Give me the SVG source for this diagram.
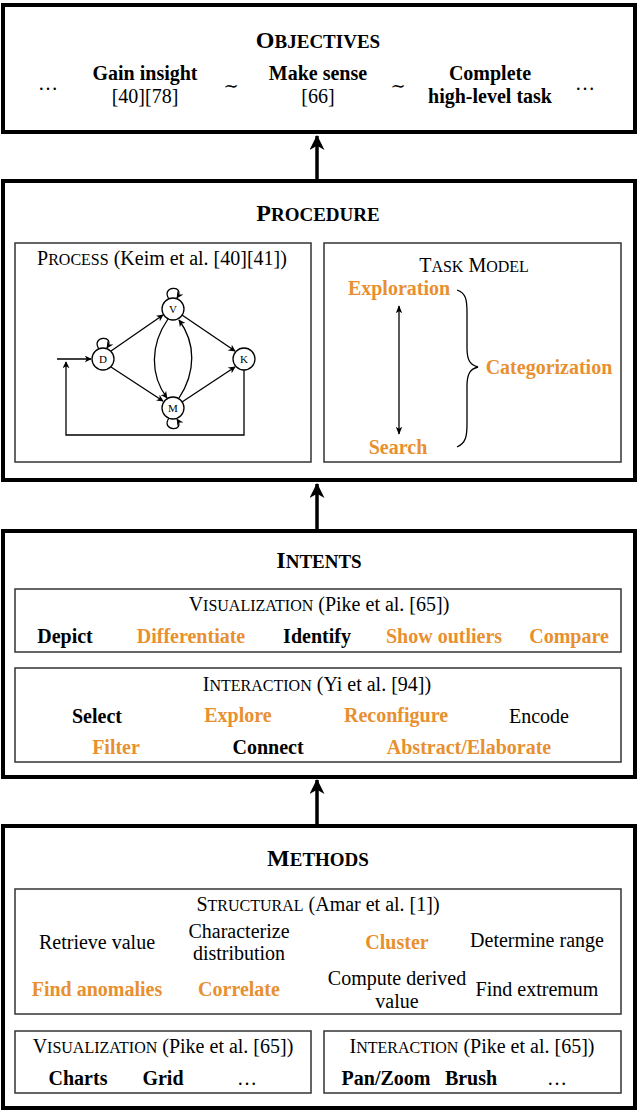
<svg xmlns="http://www.w3.org/2000/svg" width="640" height="1117" viewBox="0 0 640 1117">
<style>
text{font-family:"Liberation Serif","Times New Roman",serif;font-size:20px;fill:#000;text-anchor:middle}
.b{font-weight:bold}
.o{fill:#E8902F;font-weight:bold}
.t{font-weight:bold;font-size:24px}
.sc{font-size:16px}
.tsc{font-size:19px}
.outer{fill:#fff;stroke:#000;stroke-width:4}
.inner{fill:none;stroke:#333;stroke-width:1.5}
.edge{fill:none;stroke:#000;stroke-width:1.3}
.node{fill:#fff;stroke:#000;stroke-width:1.3}
.nl{font-size:11px}
.big{fill:none;stroke:#000;stroke-width:3.5}
</style>
<defs>
<marker id="ah" viewBox="0 0 10 10" refX="9" refY="5" markerWidth="7" markerHeight="7" markerUnits="userSpaceOnUse" orient="auto">
<path d="M0,0 L10,5 L0,10 L3,5 Z" fill="#000"/>
</marker>
<marker id="ah2" viewBox="0 0 10 10" refX="9" refY="5" markerWidth="8" markerHeight="8" markerUnits="userSpaceOnUse" orient="auto-start-reverse">
<path d="M0,1 L10,5 L0,9 L2.5,5 Z" fill="#000"/>
</marker>
<marker id="big" viewBox="0 0 14 14" refX="13" refY="7" markerWidth="15" markerHeight="15" markerUnits="userSpaceOnUse" orient="auto">
<path d="M0,0 L14,7 L0,14 L4,7 Z" fill="#000"/>
</marker>
</defs>

<g id="connectors">
<path class="big" d="M317,180 L317,136" marker-end="url(#big)"/>
<path class="big" d="M317,530 L317,484" marker-end="url(#big)"/>
<path class="big" d="M317,826 L317,780" marker-end="url(#big)"/>
</g>

<g id="objectives">
<rect class="outer" x="3" y="5" width="632" height="127"/>
<text class="b" x="318" y="48"><tspan class="t">O</tspan><tspan class="tsc">BJECTIVES</tspan></text>
<text x="48" y="90">…</text>
<text class="b" x="145" y="80">Gain insight</text>
<text x="145" y="103">[40][78]</text>
<text x="231" y="92" style="font-family:'DejaVu Serif',serif;font-size:18px">∼</text>
<text class="b" x="318" y="80">Make sense</text>
<text x="318" y="103">[66]</text>
<text x="398" y="92" style="font-family:'DejaVu Serif',serif;font-size:18px">∼</text>
<text class="b" x="490" y="80">Complete</text>
<text class="b" x="490" y="103">high-level task</text>
<text x="585" y="90">…</text>
</g>

<g id="procedure">
<rect class="outer" x="3" y="181" width="632" height="299"/>
<text class="b" x="318" y="221"><tspan class="t">P</tspan><tspan class="tsc">ROCEDURE</tspan></text>
</g>

<g id="process">
<rect class="inner" x="15" y="243" width="296" height="219"/>
<text x="162" y="265">P<tspan class="sc">ROCESS</tspan> (Keim et al. [40][41])</text>
<g id="process-graph">
<path class="edge" d="M57,359 L91,359" marker-end="url(#ah)"/>
<path class="edge" d="M244,370 L244,435 L66,435 L66,362" marker-end="url(#ah)"/>
<path class="edge" d="M111,351 L163,315" marker-end="url(#ah)"/>
<path class="edge" d="M111,367 L163,401" marker-end="url(#ah)"/>
<path class="edge" d="M182,315 L235,351" marker-end="url(#ah)"/>
<path class="edge" d="M182,402 L235,367" marker-end="url(#ah)"/>
<path class="edge" d="M168,319 C150,345 150,375 167,398" marker-end="url(#ah)"/>
<path class="edge" d="M179,398 C196,372 196,343 179,320" marker-end="url(#ah)"/>
<path class="edge" d="M99,349 C90,336 116,334 107,348" marker-end="url(#ah)"/>
<path class="edge" d="M169,299 C160,286 186,284 177,298" marker-end="url(#ah)"/>
<path class="edge" d="M169,418 C160,431 186,433 177,419" marker-end="url(#ah)"/>
<circle class="node" cx="103" cy="359" r="11"/>
<circle class="node" cx="173" cy="309" r="11"/>
<circle class="node" cx="173" cy="408" r="11"/>
<circle class="node" cx="244" cy="359" r="11"/>
<text class="nl" x="103" y="363">D</text>
<text class="nl" x="173" y="313">V</text>
<text class="nl" x="173" y="412">M</text>
<text class="nl" x="244" y="363">K</text>
</g>
</g>

<g id="task-model">
<rect class="inner" x="324" y="243" width="297" height="219"/>
<text x="474" y="272">T<tspan class="sc">ASK</tspan> M<tspan class="sc">ODEL</tspan></text>
<text class="o" x="399" y="295">Exploration</text>
<text class="o" x="398" y="454">Search</text>
<path class="edge" d="M399,370 L399,306" marker-end="url(#ah2)"/>
<path class="edge" d="M399,370 L399,434" marker-end="url(#ah2)"/>
<path class="edge" d="M457,290 C466,293 467,300 467,312 L467,348 C467,360 470,365 478,367 C470,369 467,374 467,386 L467,424 C467,436 466,443 457,447"/>
<text class="o" x="549" y="374">Categorization</text>
</g>

<g id="intents">
<rect class="outer" x="3" y="531" width="632" height="246"/>
<text class="b" x="319" y="568"><tspan class="t">I</tspan><tspan class="tsc">NTENTS</tspan></text>
</g>

<g id="intents-visualization">
<rect class="inner" x="15" y="589" width="606" height="63"/>
<text x="319" y="611">V<tspan class="sc">ISUALIZATION</tspan> (Pike et al. [65])</text>
<text class="b" x="65" y="643">Depict</text>
<text class="o" x="191" y="643">Differentiate</text>
<text class="b" x="317" y="643">Identify</text>
<text class="o" x="444" y="643">Show outliers</text>
<text class="o" x="569" y="643">Compare</text>
</g>

<g id="intents-interaction">
<rect class="inner" x="15" y="668" width="606" height="94"/>
<text x="317" y="691">I<tspan class="sc">NTERACTION</tspan> (Yi et al. [94])</text>
<text class="b" x="97" y="723">Select</text>
<text class="o" x="238" y="722">Explore</text>
<text class="o" x="396" y="722">Reconfigure</text>
<text x="539" y="723">Encode</text>
<text class="o" x="116" y="754">Filter</text>
<text class="b" x="268" y="754">Connect</text>
<text class="o" x="469" y="754">Abstract/Elaborate</text>
</g>

<g id="methods">
<rect class="outer" x="3" y="826" width="632" height="282"/>
<text class="b" x="318" y="866"><tspan class="t">M</tspan><tspan class="tsc">ETHODS</tspan></text>
</g>

<g id="structural">
<rect class="inner" x="15" y="889" width="606" height="125"/>
<text x="318" y="911">S<tspan class="sc">TRUCTURAL</tspan> (Amar et al. [1])</text>
<text x="97" y="949">Retrieve value</text>
<text x="239" y="938">Characterize</text>
<text x="239" y="960">distribution</text>
<text class="o" x="397" y="949">Cluster</text>
<text x="537" y="947">Determine range</text>
<text class="o" x="97" y="996">Find anomalies</text>
<text class="o" x="239" y="996">Correlate</text>
<text x="397" y="985">Compute derived</text>
<text x="397" y="1008">value</text>
<text x="537" y="996">Find extremum</text>
</g>

<g id="methods-visualization">
<rect class="inner" x="15" y="1031" width="296" height="62"/>
<text x="163" y="1053">V<tspan class="sc">ISUALIZATION</tspan> (Pike et al. [65])</text>
<text class="b" x="78" y="1085">Charts</text>
<text class="b" x="163" y="1085">Grid</text>
<text x="247" y="1085">…</text>
</g>

<g id="methods-interaction">
<rect class="inner" x="324" y="1031" width="297" height="62"/>
<text x="472" y="1053">I<tspan class="sc">NTERACTION</tspan> (Pike et al. [65])</text>
<text class="b" x="386" y="1085">Pan/Zoom</text>
<text class="b" x="471" y="1085">Brush</text>
<text x="557" y="1085">…</text>
</g>
</svg>
